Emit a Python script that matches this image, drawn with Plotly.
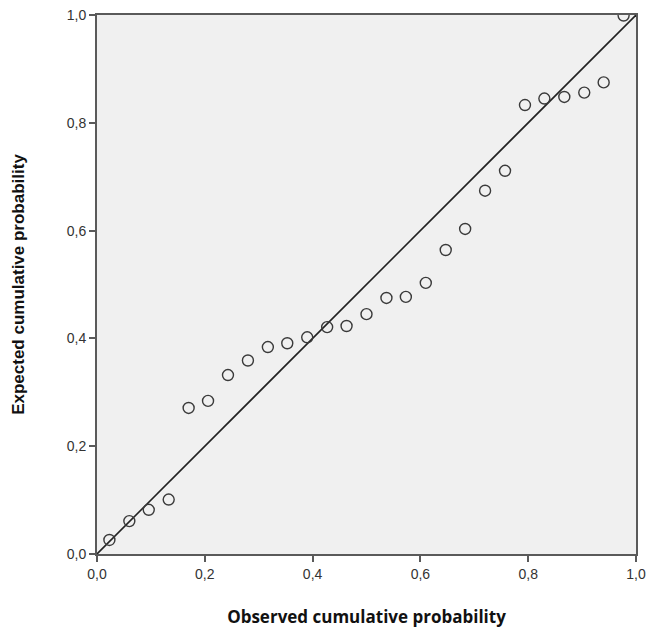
import plotly.graph_objects as go

observed = [0.023, 0.060, 0.096, 0.133, 0.170, 0.206, 0.243, 0.280, 0.317, 0.353,
            0.390, 0.427, 0.463, 0.500, 0.537, 0.573, 0.610, 0.647, 0.683, 0.720,
            0.757, 0.794, 0.830, 0.867, 0.904, 0.940, 0.977]
expected = [0.026, 0.061, 0.082, 0.101, 0.271, 0.284, 0.332, 0.359, 0.384, 0.391,
            0.402, 0.421, 0.423, 0.445, 0.475, 0.477, 0.503, 0.564, 0.603, 0.674,
            0.711, 0.833, 0.845, 0.848, 0.856, 0.875, 0.999]
ref_line = [0.0, 1.0]
tick_vals = [0.0, 0.2, 0.4, 0.6, 0.8, 1.0]
tick_text = ["0,0", "0,2", "0,4", "0,6", "0,8", "1,0"]

fig = go.Figure()
fig.add_trace(go.Scatter(x=ref_line, y=ref_line, mode="lines",
                         line=dict(color="#222222", width=1.6),
                         hoverinfo="skip", showlegend=False))
fig.add_trace(go.Scatter(x=observed, y=expected, mode="markers",
                         marker=dict(symbol="circle-open", size=11,
                                     color="#3a3a3a", line=dict(width=1.4)),
                         showlegend=False))

axis_common = dict(range=[0, 1], tickvals=tick_vals, ticktext=tick_text,
                   showgrid=False, zeroline=False, showline=True, mirror=True,
                   linecolor="#5a5a5a", linewidth=2, ticks="outside",
                   ticklen=6, tickwidth=2, tickcolor="#5a5a5a",
                   ticklabeloverflow="allow", automargin=False,
                   tickfont=dict(family="Liberation Sans, Arial", size=14, color="#333333"))

fig.update_layout(
    width=647, height=628,
    margin=dict(l=97, r=11, t=15, b=74),
    paper_bgcolor="white", plot_bgcolor="#F0F0F0",
    xaxis=dict(**axis_common,
               title=dict(text="<b>Observed cumulative probability</b>",
                          font=dict(family="Open Sans, Segoe UI", size=17, color="#111111"),
                          standoff=31)),
    yaxis=dict(**axis_common,
               title=dict(text="<b>Expected cumulative probability</b>",
                          font=dict(family="Liberation Sans, Arial", size=17, color="#111111"),
                          standoff=38)),
)

fig.write_html("out.html", config={"displayModeBar": False},
               post_script="document.body.style.margin='0';document.body.style.overflow='hidden';")
